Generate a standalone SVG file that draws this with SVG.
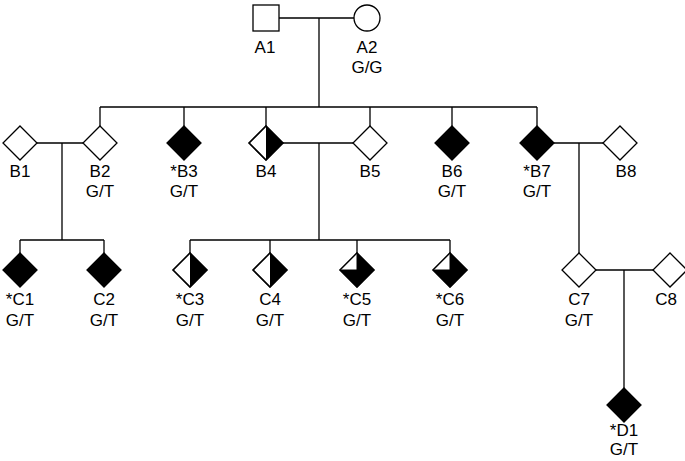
<svg xmlns="http://www.w3.org/2000/svg" width="685" height="461" viewBox="0 0 685 461">
<style>
.l{stroke:#000;stroke-width:1.3;fill:none}
.d{stroke:#000;stroke-width:1.3;fill:#fff}
.f{fill:#000}
text{font-family:"Liberation Sans",Arial,sans-serif;font-size:17px;text-anchor:middle}
</style>
<defs>
<path id="dm" d="M0,-17L17,0L0,17L-17,0Z"/>
</defs>
<g id="connectors" class="l">
<path d="M277,18H354M319,18V107M100,107H537M100,107V126M184,107V126M266,107V126M370,107V126M452,107V126M537,107V126"/>
<path d="M37,143H83M62,143V240M20,240H104M20,240V253M104,240V253"/>
<path d="M283,143H353M319,143V240M190,240H450M190,240V253M270,240V253M357,240V253M450,240V253"/>
<path d="M554,143H603M579,143V253M596,270H653M624,270V388"/>
</g>
<g id="A1"><rect x="253" y="5" width="26" height="26" class="d"/><text x="265" y="53">A1</text></g>
<g id="A2"><circle cx="367" cy="18" r="13" class="d"/><text x="367" y="53">A2</text><text x="367" y="73">G/G</text></g>
<g id="B1"><use href="#dm" x="20" y="143" class="d"/><text x="20" y="177">B1</text></g>
<g id="B2"><use href="#dm" x="100" y="143" class="d"/><text x="100" y="177">B2</text><text x="100" y="197">G/T</text></g>
<g id="B3"><use href="#dm" x="184" y="143" class="d" style="fill:#000"/><text x="184" y="177">*B3</text><text x="184" y="197">G/T</text></g>
<g id="B4"><use href="#dm" x="266" y="143" class="d"/><path d="M266,126L283,143L266,160Z" class="f"/><use href="#dm" x="266" y="143" class="l"/><text x="266" y="177">B4</text></g>
<g id="B5"><use href="#dm" x="370" y="143" class="d"/><text x="370" y="177">B5</text></g>
<g id="B6"><use href="#dm" x="452" y="143" class="d" style="fill:#000"/><text x="452" y="177">B6</text><text x="452" y="197">G/T</text></g>
<g id="B7"><use href="#dm" x="537" y="143" class="d" style="fill:#000"/><text x="537" y="177">*B7</text><text x="537" y="197">G/T</text></g>
<g id="B8"><use href="#dm" x="620" y="143" class="d"/><text x="626" y="177">B8</text></g>
<g id="C1"><use href="#dm" x="20" y="270" class="d" style="fill:#000"/><text x="20" y="305">*C1</text><text x="20" y="326">G/T</text></g>
<g id="C2"><use href="#dm" x="104" y="270" class="d" style="fill:#000"/><text x="104" y="305">C2</text><text x="104" y="326">G/T</text></g>
<g id="C3"><use href="#dm" x="190" y="270" class="d"/><path d="M190,253L207,270L190,287Z" class="f"/><use href="#dm" x="190" y="270" class="l"/><text x="190" y="305">*C3</text><text x="190" y="326">G/T</text></g>
<g id="C4"><use href="#dm" x="270" y="270" class="d"/><path d="M270,253L287,270L270,287Z" class="f"/><use href="#dm" x="270" y="270" class="l"/><text x="270" y="305">C4</text><text x="270" y="326">G/T</text></g>
<g id="C5"><use href="#dm" x="357" y="270" class="d" style="fill:#000"/><path d="M357,253L357,270L340,270Z" fill="#fff" stroke="#000" stroke-width="1"/><use href="#dm" x="357" y="270" class="l"/><text x="357" y="305">*C5</text><text x="357" y="326">G/T</text></g>
<g id="C6"><use href="#dm" x="450" y="270" class="d" style="fill:#000"/><path d="M450,253L450,270L433,270Z" fill="#fff" stroke="#000" stroke-width="1"/><use href="#dm" x="450" y="270" class="l"/><text x="450" y="305">*C6</text><text x="450" y="326">G/T</text></g>
<g id="C7"><use href="#dm" x="579" y="270" class="d"/><text x="579" y="305">C7</text><text x="579" y="326">G/T</text></g>
<g id="C8"><use href="#dm" x="670" y="270" class="d"/><text x="666" y="305">C8</text></g>
<g id="D1"><use href="#dm" x="624" y="405" class="d" style="fill:#000"/><text x="624" y="436">*D1</text><text x="624" y="455">G/T</text></g>
</svg>
